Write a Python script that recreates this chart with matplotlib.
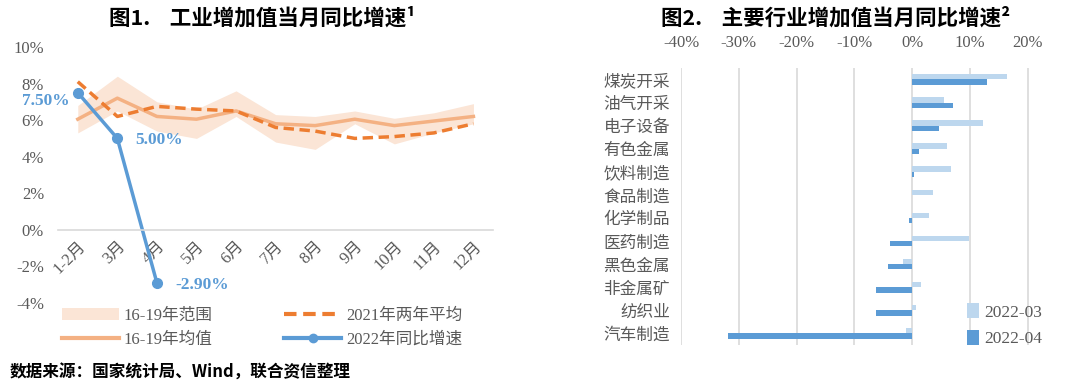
import numpy as np
import matplotlib.pyplot as plt
from matplotlib.patches import Patch
from matplotlib.lines import Line2D

plt.rcParams['font.family'] = ['Liberation Serif', 'Noto Sans CJK SC', 'DejaVu Sans']

# ---- data: figure 1 ----
months = ['1-2月', '3月', '4月', '5月', '6月', '7月', '8月', '9月', '10月', '11月', '12月']
range_low = [5.3, 6.5, 5.4, 5.0, 6.2, 4.8, 4.4, 5.8, 4.7, 5.3, 5.8]
range_high = [6.8, 8.4, 7.0, 6.6, 7.6, 6.3, 6.2, 6.5, 6.1, 6.4, 6.9]
mean_1619 = [6.05, 7.2, 6.2, 6.05, 6.5, 5.8, 5.7, 6.05, 5.7, 5.95, 6.2]
avg_2021 = [8.1, 6.2, 6.75, 6.6, 6.5, 5.6, 5.4, 5.0, 5.1, 5.3, 5.8]
yoy_2022 = [7.5, 5.0, -2.9]

# ---- data: figure 2 ----
industries = ['煤炭开采', '油气开采', '电子设备', '有色金属', '饮料制造', '食品制造',
              '化学制品', '医药制造', '黑色金属', '非金属矿', '纺织业', '汽车制造']
mar_2022 = [16.5, 5.5, 12.3, 6.0, 6.8, 3.6, 2.9, 9.9, -1.5, 1.6, 0.6, -1.0]
apr_2022 = [13.0, 7.1, 4.7, 1.2, 0.4, 0.0, -0.6, -3.9, -4.2, -6.2, -6.3, -31.8]

BLUE = '#5B9BD5'
LIGHT_BLUE = '#BDD7EE'
ORANGE = '#ED7D31'
LIGHT_ORANGE = '#F4B183'
BAND = '#FBE5D6'
GREY = '#595959'

fig = plt.figure(figsize=(10.8, 3.88), dpi=100)

# ================= figure 1 =================
ax1 = fig.add_axes([0.0537, 0.219, 0.403, 0.660])
# spine position first: set_position resets the ticks
for s in ['top', 'right', 'left']:
    ax1.spines[s].set_visible(False)
ax1.spines['bottom'].set_position(('data', 0))
ax1.spines['bottom'].set_color('#D9D9D9')
ax1.spines['bottom'].set_linewidth(1.2)

x = np.arange(len(months))
ax1.fill_between(x, range_low, range_high, color=BAND, lw=0)
ax1.plot(x, mean_1619, color=LIGHT_ORANGE, lw=2.5)
ax1.plot(x, avg_2021, color=ORANGE, lw=2.5, ls=(0, (3, 1.6)))
x22 = x[:len(yoy_2022)]
ax1.plot(x22, yoy_2022, color=BLUE, lw=2.5, marker='o', ms=7)

ax1.set_xlim(-0.5, 10.5)
ax1.set_ylim(-4, 10)
ax1.set_yticks(np.arange(-4, 11, 2))
ax1.set_yticklabels([f'{v}%' for v in range(-4, 11, 2)])
ax1.set_xticks(x)
ax1.set_xticklabels(months, rotation=45, ha='right', va='top', rotation_mode='anchor')
ax1.tick_params(length=0, labelsize=12, colors=GREY)
ax1.tick_params(axis='x', pad=6)
ax1.tick_params(axis='y', pad=10)

ann = [(-8, -8, 'right'), (18, -2, 'left'), (18, -2, 'left')]
for (dx, dy, ha), xi, v in zip(ann, x22, yoy_2022):
    ax1.annotate(f'{v:.2f}%', (xi, v), xytext=(dx, dy), textcoords='offset pixels',
                 ha=ha, va='center', color=BLUE, fontsize=12.5, fontweight='bold')

handles = [Patch(color=BAND, lw=0),
           Line2D([], [], color=LIGHT_ORANGE, lw=3),
           Line2D([], [], color=ORANGE, lw=3, ls=(0, (3, 1.6))),
           Line2D([], [], color=BLUE, lw=3, marker='o', ms=6)]
labels = ['16-19年范围', '16-19年均值', '2021年两年平均', '2022年同比增速']
ax1.legend(handles, labels, ncol=2, loc='upper left', bbox_to_anchor=(-0.025, 0.04),
           frameon=False, fontsize=12, handlelength=3.4, handletextpad=0.3,
           columnspacing=4.3, labelspacing=0.5, labelcolor=GREY)

fig.text(262 / 1080, 1 - 18 / 388, '图1.    工业增加值当月同比增速¹', ha='center', va='center',
         fontsize=15.5, fontweight='bold', family=['Noto Sans CJK SC', 'DejaVu Sans'])

fig.text(10 / 1080, 1 - 373 / 388, '数据来源：国家统计局、Wind，联合资信整理', ha='left', va='center',
         fontsize=12, fontweight='bold', family=['Noto Sans CJK SC'])

# ================= figure 2 =================
ax2 = fig.add_axes([0.6306, 0.111, 0.337, 0.714])
y = np.arange(len(industries))
h = 0.23
ax2.barh(y - h / 2, mar_2022, height=h, color=LIGHT_BLUE, label='2022-03')
ax2.barh(y + h / 2, apr_2022, height=h, color=BLUE, label='2022-04')
ax2.set_ylim(len(industries) - 0.5, -0.5)
ax2.set_xlim(-40, 23)
ax2.set_xticks(np.arange(-40, 21, 10))
ax2.set_xticklabels([f'{v}%' for v in range(-40, 21, 10)])
ax2.xaxis.tick_top()
ax2.set_yticks(y)
ax2.set_yticklabels(industries, family=['Noto Sans CJK SC'])
for s in ax2.spines.values():
    s.set_visible(False)
ax2.grid(axis='x', color='#D9D9D9', lw=1.2)
ax2.set_axisbelow(True)
ax2.tick_params(length=0, labelsize=12, colors=GREY)
ax2.tick_params(axis='x', pad=12)
ax2.tick_params(axis='y', pad=8)
ax2.legend(loc='lower right', bbox_to_anchor=(1.035, -0.065), frameon=False, fontsize=12.5,
           handlelength=0.7, handleheight=0.9, handletextpad=0.3, labelspacing=0.55,
           labelcolor=GREY)

fig.text(836 / 1080, 1 - 18 / 388, '图2.    主要行业增加值当月同比增速²', ha='center', va='center',
         fontsize=15.5, fontweight='bold', family=['Noto Sans CJK SC', 'DejaVu Sans'])

fig.savefig('out.png', dpi=100)
